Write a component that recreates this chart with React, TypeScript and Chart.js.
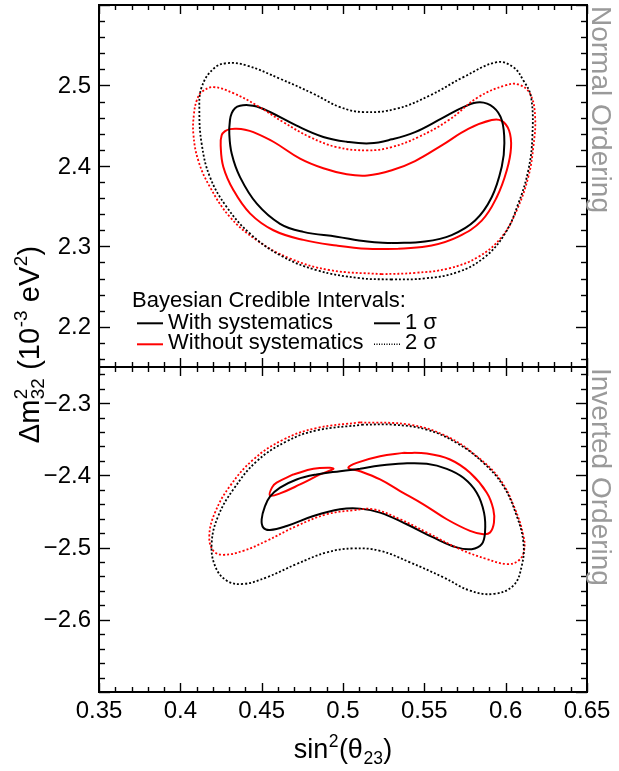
import React, { useEffect, useRef } from "react";
import { Chart, registerables } from "chart.js";

Chart.register(...registerables);

// ---------- axis ranges and tick labels ----------
const xRange: [number, number] = [0.35, 0.65];
const xTickValues = [0.35, 0.4, 0.45, 0.5, 0.55, 0.6, 0.65];
const noRange: [number, number] = [2.15, 2.6];
const noTickValues = [2.2, 2.3, 2.4, 2.5];
const ioRange: [number, number] = [-2.7, -2.25];
const ioTickValues = [-2.6, -2.5, -2.4, -2.3];
const xMinorStep = 0.01;
const yMinorStep = 0.02;

// ---------- legend / labels ----------
const legendTitle = "Bayesian Credible Intervals:";
const seriesNames = ["With systematics", "Without systematics"];
const levelNames = ["1 \u03c3", "2 \u03c3"];
const panelNames = ["Normal Ordering", "Inverted Ordering"];

// ---------- Normal ordering contours (sin^2 theta23, dm2_32 [1e-3 eV^2]) ----------
const noWith1s: [number, number][] = [
  [0.53, 2.304], [0.515, 2.306], [0.4961, 2.312], [0.4756, 2.318], [0.4613, 2.328], [0.447, 2.353],
  [0.4367, 2.386], [0.4316, 2.415], [0.4301, 2.44], [0.4305, 2.457], [0.4316, 2.4656], [0.4336, 2.4718],
  [0.4367, 2.4748], [0.4418, 2.4755], [0.447, 2.4739], [0.4551, 2.467], [0.4715, 2.45], [0.4879, 2.436],
  [0.5023, 2.43], [0.5166, 2.428], [0.53, 2.433], [0.5443, 2.442], [0.5607, 2.459], [0.575, 2.474],
  [0.5842, 2.479], [0.5924, 2.473], [0.5976, 2.457], [0.5992, 2.428], [0.5976, 2.399], [0.5914, 2.361],
  [0.5812, 2.332], [0.5668, 2.314], [0.5504, 2.306],
];
const noWithout1s: [number, number][] = [
  [0.534, 2.297], [0.515, 2.297], [0.4961, 2.301], [0.4756, 2.308], [0.4572, 2.32], [0.4428, 2.341],
  [0.4326, 2.37], [0.4264, 2.399], [0.4248, 2.4255], [0.4254, 2.438], [0.4275, 2.4432], [0.4305, 2.4457],
  [0.4346, 2.4462], [0.4398, 2.445], [0.4449, 2.442], [0.4572, 2.43], [0.4736, 2.409], [0.4879, 2.397],
  [0.5023, 2.3895], [0.515, 2.388], [0.53, 2.3945], [0.5443, 2.406], [0.5607, 2.4255], [0.577, 2.446],
  [0.5914, 2.457], [0.5976, 2.456], [0.6021, 2.444], [0.6033, 2.423], [0.6007, 2.3945], [0.5945, 2.361],
  [0.5853, 2.332], [0.5709, 2.312], [0.5545, 2.301],
];
const noWith2s: [number, number][] = [
  [0.53, 2.2588], [0.5105, 2.2604], [0.4838, 2.2704], [0.4613, 2.289], [0.4428, 2.3159], [0.4285, 2.3489],
  [0.4182, 2.3862], [0.4131, 2.4276], [0.4117, 2.469], [0.4131, 2.4979], [0.4203, 2.5207], [0.4285, 2.5277],
  [0.4408, 2.5248], [0.4613, 2.5083], [0.4818, 2.4897], [0.4982, 2.4731], [0.5125, 2.4669], [0.533, 2.4711],
  [0.5535, 2.4876], [0.574, 2.5103], [0.5945, 2.5289], [0.6047, 2.5227], [0.6109, 2.5062], [0.6156, 2.4855],
  [0.6164, 2.4358], [0.6139, 2.3945], [0.6078, 2.3532], [0.5996, 2.3159], [0.5873, 2.2869], [0.5709, 2.2682],
  [0.5504, 2.2601],
];
const noWithout2s: [number, number][] = [
  [0.5238, 2.2654], [0.492, 2.2704], [0.4674, 2.2849], [0.447, 2.3076], [0.4305, 2.3365], [0.4182, 2.3738],
  [0.411, 2.4069], [0.408, 2.44], [0.4084, 2.4649], [0.4101, 2.4814], [0.4131, 2.4917], [0.4203, 2.4979],
  [0.4326, 2.4904], [0.447, 2.4752], [0.4633, 2.4544], [0.4797, 2.4358], [0.4961, 2.4234], [0.515, 2.4193],
  [0.53, 2.4234], [0.5463, 2.4358], [0.5648, 2.4566], [0.5832, 2.4855], [0.5996, 2.5], [0.6078, 2.5012],
  [0.615, 2.4897], [0.6181, 2.4607], [0.617, 2.4234], [0.6139, 2.3862], [0.6068, 2.3448], [0.5976, 2.3117],
  [0.5832, 2.2869], [0.5648, 2.2725], [0.5443, 2.267],
];

// ---------- Inverted ordering contours ----------
const ioWith1s: [number, number][] = [
  [0.5105, -2.391], [0.4982, -2.3943], [0.4838, -2.3988], [0.4715, -2.4057], [0.4613, -2.4171], [0.4551, -2.4295],
  [0.4521, -2.4425], [0.45, -2.4608], [0.451, -2.4723], [0.4551, -2.4756], [0.4654, -2.4701], [0.4818, -2.4563],
  [0.4982, -2.447], [0.5105, -2.4461], [0.5228, -2.4516], [0.5392, -2.4677], [0.5555, -2.486], [0.5699, -2.4998],
  [0.5791, -2.5022], [0.5853, -2.4953], [0.5873, -2.4791], [0.5867, -2.4516], [0.5822, -2.424], [0.574, -2.4034],
  [0.5638, -2.391], [0.5515, -2.3841], [0.5371, -2.3836], [0.5228, -2.3864],
];
const ioWithout1sLeft: [number, number][] = [
  [0.4695, -2.3988], [0.4818, -2.391], [0.492, -2.3896], [0.4941, -2.391], [0.4859, -2.3988], [0.4736, -2.4126],
  [0.4613, -2.425], [0.4551, -2.4277], [0.4564, -2.4167], [0.4592, -2.4102],
];
const ioWithout1sRight: [number, number][] = [
  [0.5371, -2.3689], [0.5515, -2.3699], [0.5658, -2.3781], [0.5781, -2.3965], [0.5884, -2.424], [0.5924, -2.447],
  [0.5928, -2.4654], [0.5904, -2.4791], [0.5863, -2.4815], [0.5781, -2.4769], [0.5638, -2.4608], [0.5494, -2.4401],
  [0.5351, -2.4218], [0.5228, -2.4057], [0.5105, -2.3943], [0.5033, -2.3896], [0.5084, -2.3827], [0.5228, -2.3736],
];
const ioWith2s: [number, number][] = [
  [0.5125, -2.3299], [0.4838, -2.3378], [0.4654, -2.3529], [0.447, -2.3805], [0.4326, -2.4195], [0.4233, -2.4563],
  [0.4193, -2.4929], [0.4213, -2.5252], [0.4285, -2.5458], [0.4387, -2.5504], [0.4531, -2.5412], [0.4715, -2.5228],
  [0.49, -2.5067], [0.5063, -2.5012], [0.5228, -2.5045], [0.5412, -2.5205], [0.5617, -2.5412], [0.5781, -2.5596],
  [0.5924, -2.5642], [0.6047, -2.5527], [0.6099, -2.5252], [0.6109, -2.4929], [0.6068, -2.4563], [0.5986, -2.4149],
  [0.5863, -2.3827], [0.5699, -2.3551], [0.5515, -2.3368], [0.5309, -2.3299],
];
const ioWithout2s: [number, number][] = [
  [0.5105, -2.3267], [0.4838, -2.3345], [0.4633, -2.3506], [0.4449, -2.3781], [0.4305, -2.4149], [0.4213, -2.4516],
  [0.4178, -2.4838], [0.4203, -2.5045], [0.4264, -2.51], [0.4387, -2.5045], [0.4531, -2.4907], [0.4715, -2.4701],
  [0.49, -2.4539], [0.5063, -2.4484], [0.5186, -2.447], [0.5351, -2.4608], [0.5515, -2.4791], [0.5719, -2.5022],
  [0.5884, -2.5159], [0.6007, -2.5228], [0.6078, -2.5183], [0.6113, -2.5045], [0.6109, -2.4838], [0.6058, -2.447],
  [0.5965, -2.4057], [0.5822, -2.3736], [0.5638, -2.346], [0.5412, -2.3299],
];

// ---------- styling ----------
const FONT = "'Liberation Sans', Arial, Helvetica, sans-serif";
const BLACK = "#000000";
const RED = "#ff0000";
const GREY = "#9a9a9a";
const DOT = [2, 2];

const closed = (pts: [number, number][]) =>
  [...pts, pts[0]].map(([x, y]) => ({ x, y }));

const fmt = (v: number) => {
  const s = String(Math.round(v * 100) / 100);
  return s.replace("-", "\u2212");
};

type Piece = string | { sup?: string; sub?: string };

function measureRich(ctx: CanvasRenderingContext2D, pieces: Piece[], size: number) {
  let w = 0;
  for (const p of pieces) {
    if (typeof p === "string") {
      ctx.font = `${size}px ${FONT}`;
      w += ctx.measureText(p).width;
    } else {
      ctx.font = `${size * 0.65}px ${FONT}`;
      const a = p.sup ? ctx.measureText(p.sup).width : 0;
      const b = p.sub ? ctx.measureText(p.sub).width : 0;
      w += Math.max(a, b) + size * 0.03;
    }
  }
  return w;
}

function drawRich(
  ctx: CanvasRenderingContext2D,
  pieces: Piece[],
  x: number,
  y: number,
  size: number,
  subDrop = 0.24
) {
  let cx = x;
  ctx.textAlign = "left";
  ctx.textBaseline = "alphabetic";
  for (const p of pieces) {
    if (typeof p === "string") {
      ctx.font = `${size}px ${FONT}`;
      ctx.fillText(p, cx, y);
      cx += ctx.measureText(p).width;
    } else {
      ctx.font = `${size * 0.65}px ${FONT}`;
      let w = 0;
      if (p.sup) {
        ctx.fillText(p.sup, cx + size * 0.02, y - size * 0.42);
        w = Math.max(w, ctx.measureText(p.sup).width);
      }
      if (p.sub) {
        ctx.fillText(p.sub, cx + size * 0.02, y + size * subDrop);
        w = Math.max(w, ctx.measureText(p.sub).width);
      }
      cx += w + size * 0.03;
    }
  }
}

const xTitle: Piece[] = ["sin", { sup: "2" }, "(\u03b8", { sub: "23" }, ")"];
const yTitle: Piece[] = ["\u0394m", { sup: "2", sub: "32" }, " (10", { sup: "-3" }, " eV", { sup: "2" }, ")"];

const decorPlugin = {
  id: "decor",
  afterDraw(chart: any) {
    const ctx: CanvasRenderingContext2D = chart.ctx;
    const xs = chart.scales.x;
    const yN = chart.scales.yNO;
    const yI = chart.scales.yIO;
    const left = xs.left;
    const right = xs.right;
    const line = (x1: number, y1: number, x2: number, y2: number) => {
      ctx.beginPath();
      ctx.moveTo(x1, y1);
      ctx.lineTo(x2, y2);
      ctx.stroke();
    };
    ctx.save();
    ctx.strokeStyle = BLACK;
    ctx.lineWidth = 1.4;
    for (const p of [yN, yI]) {
      const top = p.top;
      const bot = p.bottom;
      const n = Math.round((xRange[1] - xRange[0]) / xMinorStep);
      for (let i = 0; i <= n; i++) {
        const v = xRange[0] + i * xMinorStep;
        const px = Math.round(xs.getPixelForValue(v)) + 0.5;
        const L = i % 5 === 0 ? 9 : 5;
        line(px, top, px, top + L);
        line(px, bot, px, bot - L);
      }
      const k0 = Math.ceil(p.min / yMinorStep - 1e-6);
      const k1 = Math.floor(p.max / yMinorStep + 1e-6);
      for (let k = k0; k <= k1; k++) {
        const v = k * yMinorStep;
        const py = Math.round(p.getPixelForValue(v)) + 0.5;
        const L = Math.abs(k) % 5 === 0 ? 11 : 6;
        line(left, py, left + L, py);
        line(right, py, right - L, py);
      }
    }
    // frame
    ctx.lineWidth = 2;
    ctx.strokeRect(left, yN.top, right - left, yI.bottom - yN.top);
    line(left, yN.bottom, right, yN.bottom);

    // axis titles
    ctx.fillStyle = BLACK;
    const xSize = 27;
    const xw = measureRich(ctx, xTitle, xSize);
    drawRich(ctx, xTitle, (left + right) / 2 - xw / 2, yI.bottom + 66, xSize);
    const ySize = 29;
    const yw = measureRich(ctx, yTitle, ySize);
    ctx.save();
    ctx.translate(39, (yN.top + yI.bottom) / 2 - 4);
    ctx.rotate(-Math.PI / 2);
    drawRich(ctx, yTitle, -yw / 2, 0, ySize, 0.18);
    ctx.restore();

    // panel names
    ctx.fillStyle = GREY;
    ctx.font = `28px ${FONT}`;
    ctx.textAlign = "left";
    ctx.textBaseline = "alphabetic";
    [[panelNames[0], yN.top + 1], [panelNames[1], yI.top + 1]].forEach(([t, yy]) => {
      ctx.save();
      ctx.translate(right + 4.5, yy as number);
      ctx.rotate(Math.PI / 2);
      ctx.fillText(t as string, 0, 0);
      ctx.restore();
    });

    // legend
    const sep = yN.bottom;
    ctx.fillStyle = BLACK;
    ctx.font = `22px ${FONT}`;
    ctx.fillText(legendTitle, left + 33, sep - 60.5);
    ctx.fillText(seriesNames[0], left + 69, sep - 37.7);
    ctx.fillText(seriesNames[1], left + 69, sep - 17.7);
    ctx.fillText(levelNames[0], left + 306, sep - 37.7);
    ctx.fillText(levelNames[1], left + 306, sep - 17.7);
    ctx.lineWidth = 2;
    ctx.strokeStyle = BLACK;
    line(left + 38, sep - 43.7, left + 64, sep - 43.7);
    line(left + 275, sep - 43.7, left + 301, sep - 43.7);
    ctx.setLineDash([1, 1.5]);
    ctx.lineWidth = 1.5;
    line(left + 275, sep - 22.7, left + 301, sep - 22.7);
    ctx.setLineDash([]);
    ctx.lineWidth = 2;
    ctx.strokeStyle = RED;
    line(left + 38, sep - 22.7, left + 64, sep - 22.7);
    ctx.restore();
  },
};

function makeDataset(pts: [number, number][], color: string, dotted: boolean, axis: string) {
  return {
    data: closed(pts),
    yAxisID: axis,
    showLine: true,
    borderColor: color,
    backgroundColor: color,
    borderWidth: dotted ? 1.8 : 2,
    borderDash: dotted ? DOT : [],
    pointRadius: 0,
    pointHoverRadius: 0,
    tension: 0.4,
    fill: false,
  };
}

export default function App() {
  const ref = useRef<HTMLCanvasElement>(null);
  useEffect(() => {
    const canvas = ref.current;
    if (!canvas) return;
    const tickFont = { family: FONT, size: 24 };
    const yScale = (range: [number, number], ticks: number[], weight: number, stackWeight: number) => ({
      type: "linear" as const,
      position: "left" as const,
      stack: "panels",
      stackWeight,
      weight,
      min: range[0],
      max: range[1],
      afterBuildTicks: (s: any) => {
        s.ticks = ticks.map((v) => ({ value: v }));
      },
      afterFit: (s: any) => {
        s.width = 99;
        s.paddingTop = 0;
        s.paddingBottom = 0;
        s.paddingLeft = 0;
        s.paddingRight = 0;
      },
      grid: { display: false, drawTicks: false },
      border: { display: false },
      ticks: {
        font: tickFont,
        color: BLACK,
        padding: 8,
        labelOffset: 1,
        autoSkip: false,
        callback: (v: any) => fmt(Number(v)),
      },
    });
    const chart = new Chart(canvas, {
      type: "scatter",
      data: {
        datasets: [
          makeDataset(noWith2s, BLACK, true, "yNO"),
          makeDataset(noWithout2s, RED, true, "yNO"),
          makeDataset(noWith1s, BLACK, false, "yNO"),
          makeDataset(noWithout1s, RED, false, "yNO"),
          makeDataset(ioWith2s, BLACK, true, "yIO"),
          makeDataset(ioWithout2s, RED, true, "yIO"),
          makeDataset(ioWith1s, BLACK, false, "yIO"),
          makeDataset(ioWithout1sLeft, RED, false, "yIO"),
          makeDataset(ioWithout1sRight, RED, false, "yIO"),
        ] as any,
      },
      options: {
        responsive: false,
        maintainAspectRatio: false,
        animation: false,
        devicePixelRatio: 1,
        events: [],
        layout: { padding: { top: 5, right: 32, left: 0, bottom: 0 } },
        plugins: { legend: { display: false }, tooltip: { enabled: false } },
        scales: {
          x: {
            type: "linear",
            position: "bottom",
            min: xRange[0],
            max: xRange[1],
            afterBuildTicks: (s: any) => {
              s.ticks = xTickValues.map((v) => ({ value: v }));
            },
            afterFit: (s: any) => {
              s.height = 79;
              s.paddingLeft = 0;
              s.paddingRight = 0;
            },
            grid: { display: false, drawTicks: false },
            border: { display: false },
            ticks: {
              font: tickFont,
              color: BLACK,
              padding: 5,
              autoSkip: false,
              maxRotation: 0,
              callback: (v: any) => fmt(Number(v)),
            },
          },
          yNO: yScale(noRange, noTickValues, 1, 362),
          yIO: yScale(ioRange, ioTickValues, 0, 325),
        } as any,
      },
      plugins: [decorPlugin],
    });
    return () => chart.destroy();
  }, []);
  return (
    <canvas
      ref={ref}
      width={619}
      height={771}
      style={{ position: "absolute", left: 0, top: 0, width: 619, height: 771 }}
    />
  );
}
